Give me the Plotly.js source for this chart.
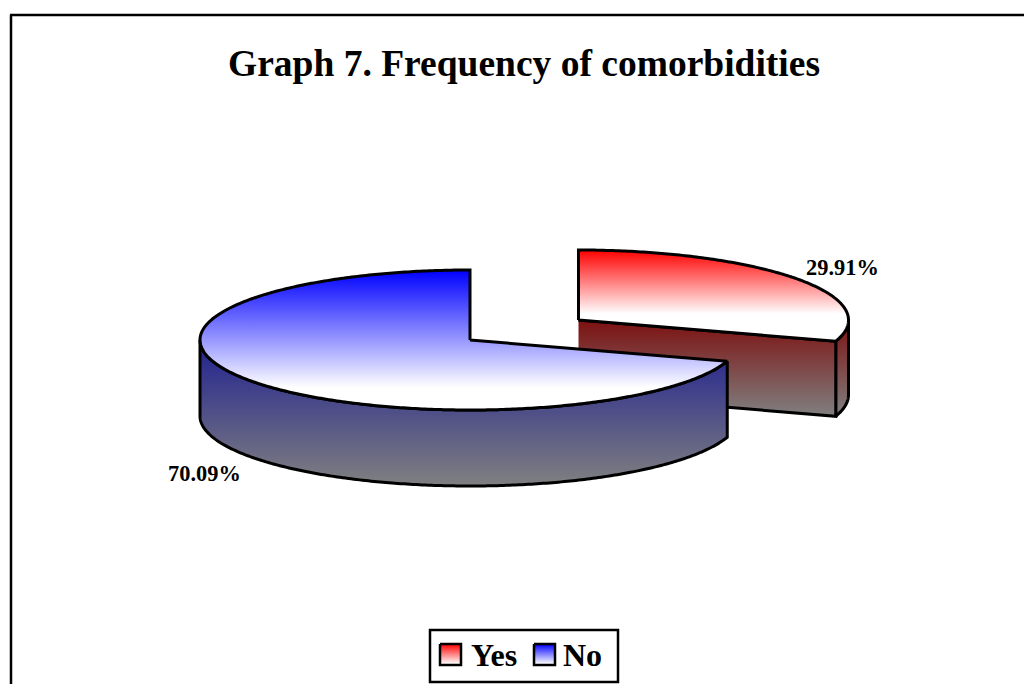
<!DOCTYPE html>
<html>
<head>
<meta charset="utf-8">
<script src="https://cdn.plot.ly/plotly-3.0.1.min.js"></script>
<style>html,body{margin:0;padding:0;background:#fff}#chart{width:1024px;height:684px}</style>
</head>
<body>
<div id="chart"></div>
<script>
const titleText = 'Graph 7. Frequency of comorbidities';
const categories = ['Yes', 'No'];
const values = [29.91, 70.09];
const topColors = ['#ff0000', '#0000ff'];
const wallColors = ['#7d1010', '#202090'];
const wallEnd = '#808080';
const labelPositions = [[842.5, 267.5], [204.5, 473.5]];

const rx = 270, ry = 70, depth = 75;
const centers = [[578.5, 320], [470, 340]];
const serif = '"Liberation Serif", "Times New Roman", serif';
const total = values.reduce((a, b) => a + b, 0);
const splitDeg = values[0] / total * 360;

function pt(c, deg, dy) {
  const r = deg * Math.PI / 180;
  return [c[0] + rx * Math.sin(r), c[1] - ry * Math.cos(r) + (dy || 0)];
}
function arc(c, from, to, dy) {
  const n = Math.max(2, Math.ceil(Math.abs(to - from) * 1.5)), out = [];
  for (let i = 0; i <= n; i++) out.push(pt(c, from + (to - from) * i / n, dy));
  return out;
}
// the y axis runs downward, so the gradient stops are listed bottom-of-page first
function poly(points, scale, w) {
  return {
    type: 'scatter', mode: 'lines', hoverinfo: 'skip', showlegend: false,
    x: points.map(p => p[0]), y: points.map(p => p[1]),
    fill: 'toself',
    fillgradient: {type: 'vertical', colorscale: scale},
    line: {color: '#000', width: w === undefined ? 3 : w, simplify: false}
  };
}
function fade(col, stop) { return [[0, '#ffffff'], [1 - stop, '#ffffff'], [1, col]]; }
function wall(col) { return [[0, wallEnd], [1, col]]; }

const [cY, cN] = centers;
const traces = [];
// Yes: outer rim, cut face, top
traces.push(poly(
  arc(cY, 90, splitDeg).concat(arc(cY, splitDeg, 90, depth)).concat([pt(cY, 90)]),
  wall(wallColors[0])));
const a = pt(cY, splitDeg);
traces.push(poly(
  [[cY[0], cY[1]], a, [a[0], a[1] + depth], [cY[0], cY[1] + depth]],
  wall(wallColors[0])));
traces.push(poly(
  [[cY[0], cY[1]]].concat(arc(cY, 0, splitDeg)).concat([[cY[0], cY[1]]]),
  fade(topColors[0], 0.7)));
// No: rim, top
traces.push(poly(
  arc(cN, splitDeg, 270).concat(arc(cN, 270, splitDeg, depth + 1)).concat([pt(cN, splitDeg)]),
  wall(wallColors[1])));
traces.push(poly(
  [[cN[0], cN[1]]].concat(arc(cN, splitDeg, 360)).concat([[cN[0], cN[1]]]),
  fade(topColors[1], 0.84)));

// legend keys
const keyX = [440, 534], keyTextX = [471, 563];
categories.forEach((c, i) => {
  const x0 = keyX[i], x1 = x0 + 21, y0 = 644, y1 = 665;
  traces.push(poly([[x0, y0], [x1, y0], [x1, y1], [x0, y1], [x0, y0]], fade(topColors[i], 0.95), 2.5));
});

const annotations = [];
annotations.push({
  x: 524, y: 63, xref: 'x', yref: 'y', text: '<b>' + titleText + '</b>', showarrow: false,
  font: {family: serif, size: 37.5, color: '#000'}, xanchor: 'center', yanchor: 'middle'
});
values.forEach((v, i) => annotations.push({
  x: labelPositions[i][0], y: labelPositions[i][1], xref: 'x', yref: 'y',
  text: '<b>' + v.toFixed(2) + '%</b>', showarrow: false,
  font: {family: serif, size: 22.4, color: '#000'}, xanchor: 'center', yanchor: 'middle'
}));
categories.forEach((c, i) => annotations.push({
  x: keyTextX[i], y: 655, xref: 'x', yref: 'y', text: '<b>' + c + '</b>', showarrow: false,
  font: {family: serif, size: 32, color: '#000'}, xanchor: 'left', yanchor: 'middle', xshift: -2
}));

const shapes = [
  {type: 'line', xref: 'x', yref: 'y', x0: 11, x1: 11, y0: 15, y1: 684, line: {color: '#000', width: 2.5}},
  {type: 'line', xref: 'x', yref: 'y', x0: 10, x1: 1024, y0: 15, y1: 15, line: {color: '#000', width: 2.5}},
  {type: 'rect', xref: 'x', yref: 'y', x0: 430, x1: 618, y0: 630, y1: 682, fillcolor: '#fff', line: {color: '#000', width: 2.5}, layer: 'below'}
];

const axis = {visible: false, showgrid: false, zeroline: false, fixedrange: true};
Plotly.newPlot('chart', traces, {
  width: 1024, height: 684,
  margin: {l: 0, r: 0, t: 0, b: 0},
  paper_bgcolor: '#fff', plot_bgcolor: '#fff',
  showlegend: false,
  xaxis: Object.assign({range: [0, 1024]}, axis),
  yaxis: Object.assign({range: [684, 0]}, axis),
  annotations, shapes
}, {displayModeBar: false, staticPlot: true});
</script>
</body>
</html>
